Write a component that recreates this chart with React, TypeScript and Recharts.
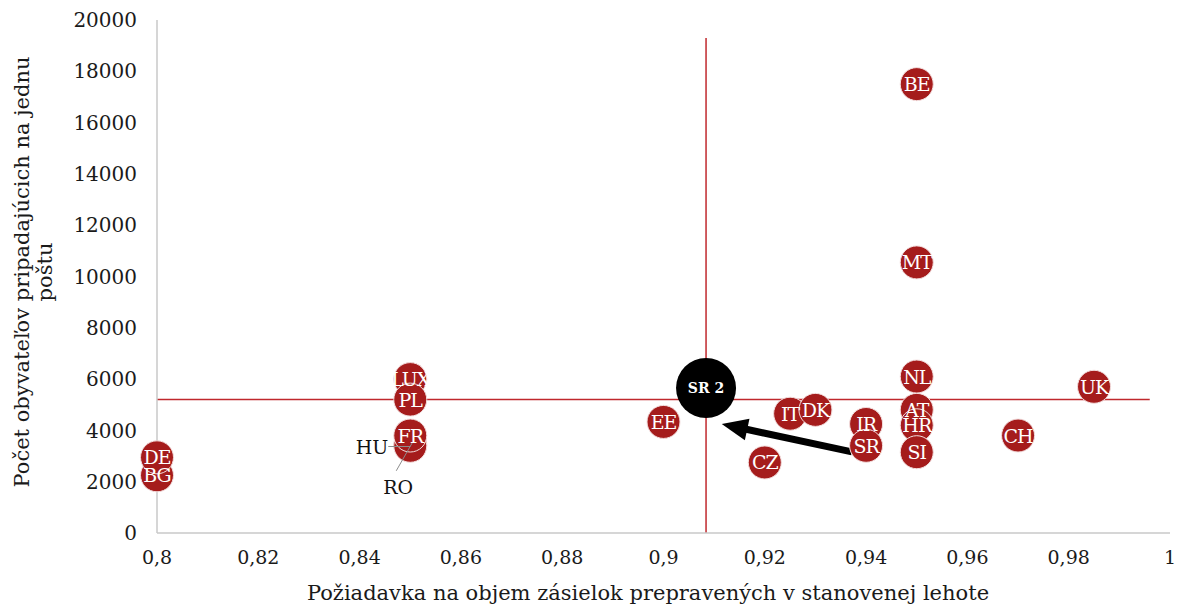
import React from "react";
import {
  LabelList,
  ReferenceLine,
  Scatter,
  ScatterChart,
  XAxis,
  YAxis
} from "recharts";

// country codes and their coordinates (requirement share, residents per post office)
const countries = ["BE", "MT", "NL", "AT", "HR", "SI", "UK", "CH", "IR", "IT", "DK", "SR", "CZ", "EE", "LUX", "PL", "FR", "BG", "DE"];
const requirement = [0.95, 0.95, 0.95, 0.95, 0.95, 0.95, 0.985, 0.97, 0.94, 0.925, 0.93, 0.94, 0.92, 0.9, 0.85, 0.85, 0.85, 0.8, 0.8];
const residents = [17500, 10550, 6100, 4800, 4200, 3150, 5700, 3800, 4250, 4650, 4800, 3400, 2750, 4330, 6000, 5200, 3800, 2250, 2950];

// hidden behind FR, labelled outside
const hiddenCountries = ["HU", "RO"];
const hiddenRequirement = [0.85, 0.85];
const hiddenResidents = [3450, 3400];

const slovakiaName = "SR 2";
const slovakiaRequirement = 0.9084;
const slovakiaResidents = 5650;

const averageRequirement = 0.9084;
const averageResidents = 5200;

// arrow from SR to SR 2
const arrowFrom = { x: 0.9372, y: 3160 };
const arrowTo = { x: 0.9115, y: 4250 };

const xTicks = [0.8, 0.82, 0.84, 0.86, 0.88, 0.9, 0.92, 0.94, 0.96, 0.98, 1];
const yTicks = [0, 2000, 4000, 6000, 8000, 10000, 12000, 14000, 16000, 18000, 20000];

const xTitle = "Požiadavka na objem zásielok prepravených v stanovenej lehote";
const yTitleLines = ["Počet obyvateľov pripadajúcich na jednu", "poštu"];

const mainData = countries.map((name, i) => ({ name, x: requirement[i], y: residents[i] }));
const hiddenData = hiddenCountries.map((name, i) => ({ name, x: hiddenRequirement[i], y: hiddenResidents[i] }));
const slovakiaData = [{ name: slovakiaName, x: slovakiaRequirement, y: slovakiaResidents }];

const FONT = "'DejaVu Serif', Georgia, serif";
const RED = "#a51c1c";
const LINE_RED = "#c0282d";

const Bubble = (props: any) => (
  <circle cx={props.cx} cy={props.cy} r={16.5} fill={RED} stroke="#f3dede" strokeWidth={1} />
);

const BigBubble = (props: any) => <circle cx={props.cx} cy={props.cy} r={30} fill="#000" />;

const HiddenLabel = (props: any) => {
  const { cx, cy, payload } = props;
  if (payload.name === "HU") {
    return (
      <g>
        <line x1={cx - 22} y1={cy + 2} x2={cx} y2={cy + 2} stroke="#8c8c8c" strokeWidth={1} />
        <text x={cx - 22} y={cy + 9} textAnchor="end" fontFamily={FONT} fontSize={19} fill="#111">
          HU
        </text>
      </g>
    );
  }
  return (
    <g>
      <line x1={cx - 14} y1={cy + 25} x2={cx + 2} y2={cy - 3} stroke="#8c8c8c" strokeWidth={1} />
      <text x={cx - 12} y={cy + 48} textAnchor="middle" fontFamily={FONT} fontSize={19} fill="#111">
        RO
      </text>
    </g>
  );
};

const BubbleLabel = (props: any) => {
  const { x, y, width, height, value } = props;
  return (
    <text
      x={x + width / 2}
      y={y + height / 2}
      textAnchor="middle"
      dominantBaseline="central"
      fontFamily={FONT}
      fontSize={19}
      fill="#fff"
      letterSpacing={-1}
    >
      {value}
    </text>
  );
};

const BigLabel = (props: any) => {
  const { x, y, width, height, value } = props;
  return (
    <text
      x={x + width / 2}
      y={y + height / 2}
      textAnchor="middle"
      dominantBaseline="central"
      fontFamily={FONT}
      fontSize={14}
      fontWeight="bold"
      fill="#fff"
    >
      {value}
    </text>
  );
};

const Arrow = (props: any) => {
  const { x1, y1, x2, y2 } = props;
  const dx = x2 - x1;
  const dy = y2 - y1;
  const len = Math.sqrt(dx * dx + dy * dy);
  const ux = dx / len;
  const uy = dy / len;
  const head = 26;
  const half = 11;
  const bx = x2 - ux * head;
  const by = y2 - uy * head;
  return (
    <g>
      <line x1={x1} y1={y1} x2={bx + ux * 2} y2={by + uy * 2} stroke="#000" strokeWidth={7} />
      <polygon
        points={`${x2},${y2} ${bx - uy * half},${by + ux * half} ${bx + uy * half},${by - ux * half}`}
        fill="#000"
      />
    </g>
  );
};

const formatX = (v: number) => String(v).replace(".", ",");

const App = () => (
  <div style={{ position: "absolute", left: 0, top: 0, background: "#fff" }}>
    <ScatterChart width={1177} height={607} margin={{ top: 20, right: 7, bottom: 4, left: 57 }}>
      <XAxis
        type="number"
        dataKey="x"
        domain={[0.8, 1]}
        ticks={xTicks}
        tickFormatter={formatX}
        axisLine={{ stroke: "#c8c8c8", strokeWidth: 1.5 }}
        tickLine={false}
        tickMargin={12}
        height={70}
        tick={{ fontFamily: FONT, fontSize: 19, fill: "#1a1a1a" }}
        label={{
          content: () => (
            <text x={648} y={600} textAnchor="middle" fontFamily={FONT} fontSize={21} fill="#1a1a1a">
              {xTitle}
            </text>
          )
        }}
      />
      <YAxis
        type="number"
        dataKey="y"
        domain={[0, 20000]}
        ticks={yTicks}
        axisLine={{ stroke: "#c8c8c8", strokeWidth: 1.5 }}
        tickLine={false}
        tickMargin={14}
        width={100}
        tick={{ fontFamily: FONT, fontSize: 20, fill: "#1a1a1a" }}
        label={{
          content: () => (
            <g>
              {yTitleLines.map((line, i) => (
                <text
                  key={line}
                  x={22 + i * 23}
                  y={272}
                  transform={`rotate(-90, ${22 + i * 23}, 272)`}
                  textAnchor="middle"
                  dominantBaseline="central"
                  fontFamily={FONT}
                  fontSize={21}
                  fill="#1a1a1a"
                >
                  {line}
                </text>
              ))}
            </g>
          )
        }}
      />
      <ReferenceLine
        segment={[
          { x: 0.8, y: averageResidents },
          { x: 0.996, y: averageResidents }
        ]}
        stroke={LINE_RED}
        strokeWidth={1.5}
      />
      <ReferenceLine
        segment={[
          { x: averageRequirement, y: 0 },
          { x: averageRequirement, y: 19300 }
        ]}
        stroke={LINE_RED}
        strokeWidth={1.5}
      />
      <Scatter data={hiddenData} shape={Bubble} isAnimationActive={false} />
      <Scatter data={mainData} shape={Bubble} isAnimationActive={false}>
        <LabelList dataKey="name" content={BubbleLabel} />
      </Scatter>
      <Scatter data={slovakiaData} shape={BigBubble} isAnimationActive={false}>
        <LabelList dataKey="name" content={BigLabel} />
      </Scatter>
      <Scatter data={hiddenData} shape={HiddenLabel} isAnimationActive={false} />
      <ReferenceLine segment={[arrowFrom, arrowTo]} shape={Arrow} />
    </ScatterChart>
  </div>
);

export default App;
